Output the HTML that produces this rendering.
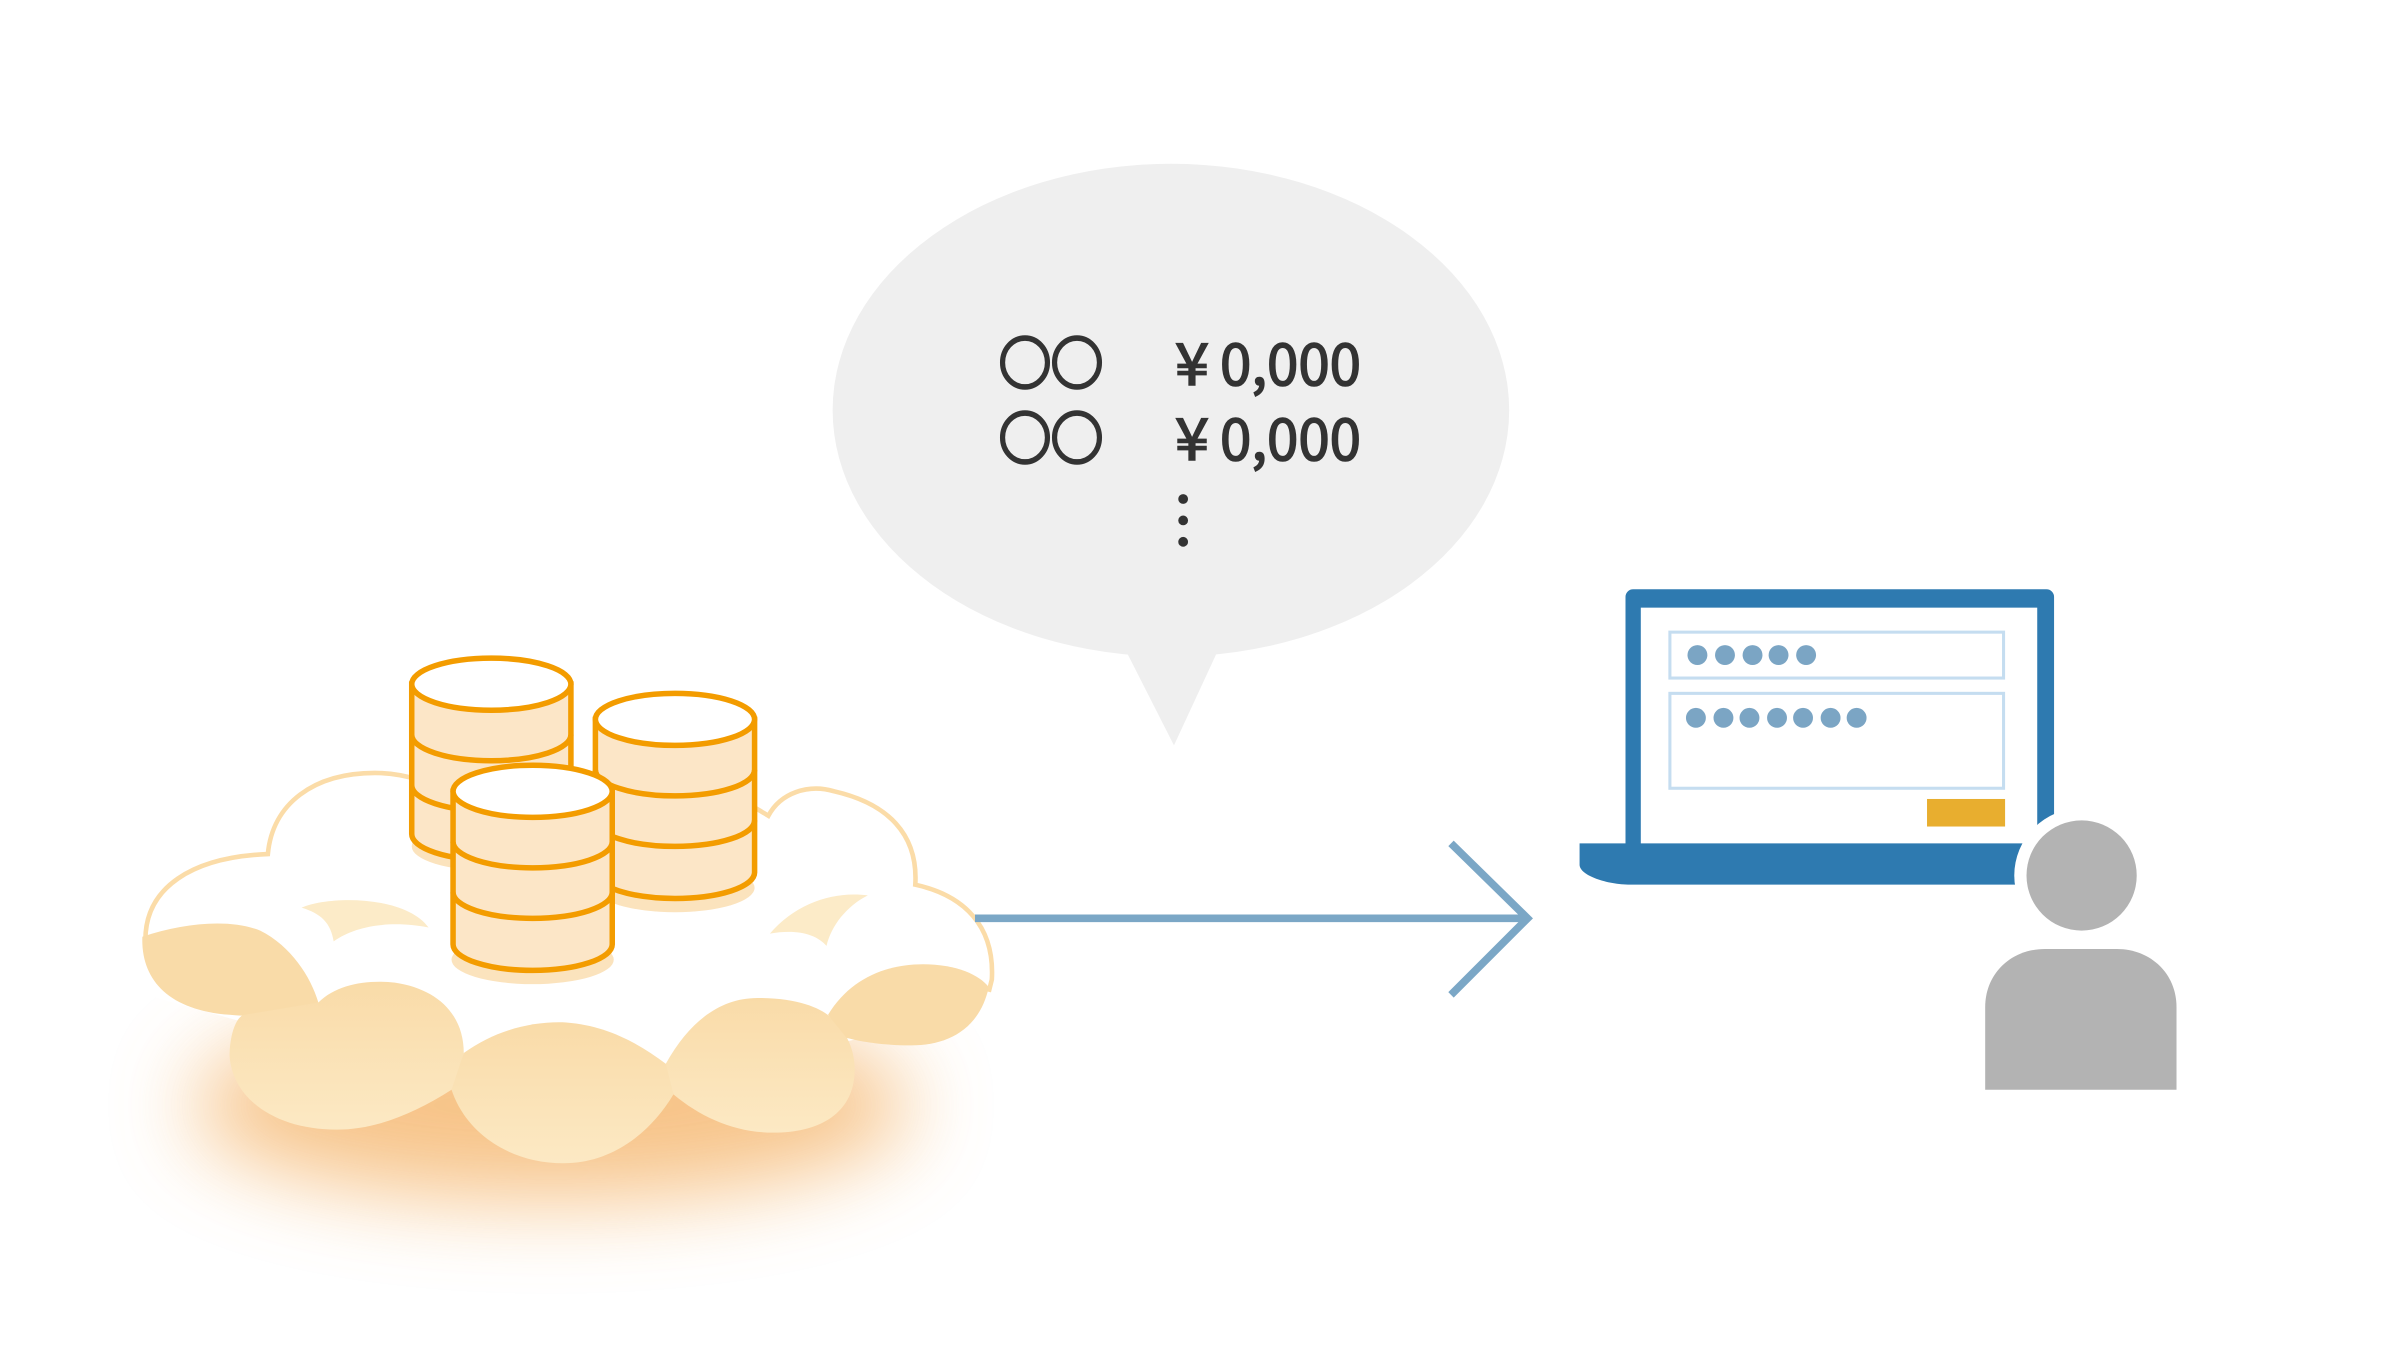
<!DOCTYPE html>
<html><head><meta charset="utf-8"><style>html,body{margin:0;padding:0;background:#fff}svg{display:block}</style></head>
<body>
<svg width="2400" height="1350" viewBox="0 0 2400 1350" xmlns="http://www.w3.org/2000/svg">
<defs>
<filter id="blur" x="-50%" y="-50%" width="200%" height="200%"><feGaussianBlur stdDeviation="28"/></filter>
<linearGradient id="lobe" x1="0" y1="0" x2="0" y2="1"><stop offset="0" stop-color="#f9dba8"/><stop offset="1" stop-color="#fce9c4"/></linearGradient>
</defs>
<g transform="scale(1.5306)">
  <ellipse cx="360" cy="722" rx="235" ry="62" fill="#f4b062" opacity="0.75" filter="url(#blur)"/>
  <path d="M95,650 L95,612 C95,580 125,560 175,558 C178,525 205,505 245,505 C265,505 285,512 300,522 L480,522 C490,525 497,530 502,533 C510,518 528,512 545,517 C580,525 600,545 598,578 C630,585 650,605 648,640 L648,660 L555,680 L440,700 L300,692 L160,668 Z" fill="#fff"/>
  <path d="M95,614 C95,580 125,560 175,558 C178,525 205,505 245,505 C265,505 285,512 300,522 M480,522 C490,525 497,530 502,533 C510,518 528,512 545,517 C580,525 600,545 598,578 C630,585 650,605 648,640 L646,648" fill="none" stroke="#fbdca8" stroke-width="3"/>
  <path d="M197,593 C215,585 265,585 280,606 C260,602 235,603 218,615 C216,603 210,597 197,593 Z" fill="#fcebc8"/>
  <path d="M503,610 C520,590 545,582 567,585 C553,592 543,605 540,618 C533,610 520,607 503,610 Z" fill="#fcebc8"/>
  <path d="M93,612 C120,603 150,600 170,608 C190,618 203,638 208,655 C190,663 170,665 150,663 C110,660 92,640 93,612 Z" fill="#f9dba8"/>
  <path d="M208,655 C220,643 240,640 258,642 C285,646 303,662 303,688 C300,700 300,705 295,712 C270,728 245,738 220,738 C180,738 152,718 150,690 C150,675 155,663 160,663 Z" fill="url(#lobe)"/>
  <path d="M303,688 C325,672 350,667 370,668 C395,670 415,680 435,695 C438,700 440,708 440,715 C425,740 400,760 368,760 C335,760 305,742 295,712 Z" fill="url(#lobe)"/>
  <path d="M435,695 C450,668 470,652 495,652 C520,652 535,658 542,664 C555,675 560,690 558,705 C555,728 535,740 505,740 C480,740 458,730 440,715 Z" fill="url(#lobe)"/>
  <path d="M541,663 C555,640 578,630 603,630 C625,630 640,637 646,645 C640,672 620,683 595,683 C575,683 560,680 553,678 Z" fill="#f9dba8"/>

  <g stroke="#f39c00" stroke-width="3.6" >
    <ellipse cx="321" cy="553" rx="52" ry="16" fill="#fbe3bd" stroke="none"/>
    <path d="M269,447 L269,545 A52,17 0 0 0 373,545 L373,447 Z" fill="#fce6c7"/>
    <path d="M269,480 A52,17 0 0 0 373,480 M269,513 A52,17 0 0 0 373,513" fill="none"/>
    <ellipse cx="321" cy="447" rx="52" ry="17" fill="#fff"/>
    <ellipse cx="441" cy="580" rx="52" ry="16" fill="#fbe3bd" stroke="none"/>
    <path d="M389,470 L389,570 A52,17 0 0 0 493,570 L493,470 Z" fill="#fce6c7"/>
    <path d="M389,503 A52,17 0 0 0 493,503 M389,536 A52,17 0 0 0 493,536" fill="none"/>
    <ellipse cx="441" cy="470" rx="52" ry="17" fill="#fff"/>
    <ellipse cx="348" cy="627" rx="53" ry="16" fill="#fbe3bd" stroke="none"/>
    <path d="M296,517 L296,617 A52,17 0 0 0 400,617 L400,517 Z" fill="#fce6c7"/>
    <path d="M296,550 A52,17 0 0 0 400,550 M296,583 A52,17 0 0 0 400,583" fill="none"/>
    <ellipse cx="348" cy="517" rx="52" ry="17" fill="#fff"/>
  </g>

  <line x1="637" y1="600" x2="996" y2="600" stroke="#7ba7c6" stroke-width="5"/>
  <polyline points="948,551 998,600 948,650" fill="none" stroke="#7ba7c6" stroke-width="5"/>

  <ellipse cx="765" cy="268" rx="221" ry="161" fill="#efefef"/>
  <polygon points="733,420 798,420 767,487" fill="#efefef"/>
  <circle cx="773" cy="326" r="3.2" fill="#333"/>
  <circle cx="773" cy="340" r="3.2" fill="#333"/>
  <circle cx="773" cy="354" r="3.2" fill="#333"/>

  <rect x="1062" y="385" width="280" height="175" rx="5" fill="#2e7ab0"/>
  <rect x="1072" y="397" width="259" height="160" fill="#fff"/>
  <path d="M1032,551 L1322,551 L1322,578 L1065,578 C1050,578 1032,572 1032,565 Z" fill="#2e7ab0"/>
  <rect x="1091" y="413" width="218" height="30" fill="none" stroke="#c5ddf0" stroke-width="2"/>
  <rect x="1091" y="453" width="218" height="62" fill="none" stroke="#c5ddf0" stroke-width="2"/>
  <g fill="#7ba5c4">
    <circle cx="1109" cy="428" r="6.5"/><circle cx="1127" cy="428" r="6.5"/><circle cx="1145" cy="428" r="6.5"/><circle cx="1162" cy="428" r="6.5"/><circle cx="1180" cy="428" r="6.5"/>
    <circle cx="1108" cy="469" r="6.5"/><circle cx="1126" cy="469" r="6.5"/><circle cx="1143" cy="469" r="6.5"/><circle cx="1161" cy="469" r="6.5"/><circle cx="1178" cy="469" r="6.5"/><circle cx="1196" cy="469" r="6.5"/><circle cx="1213" cy="469" r="6.5"/>
  </g>
  <rect x="1259" y="522" width="51" height="18" fill="#e8ae2f"/>
  <circle cx="1360" cy="572" r="44" fill="#fff"/>
  <circle cx="1360" cy="572" r="36" fill="#b3b3b3"/>
  <path d="M1297,712 L1297,658 C1297,636 1314,620 1336,620 L1383,620 C1405,620 1422,636 1422,658 L1422,712 Z" fill="#b3b3b3"/>
</g>
<g fill="#333">
  <g font-family="'Noto Sans CJK JP',sans-serif" font-size="56" stroke="#333" stroke-width="3.5">
    <text x="999" y="384" textLength="104" lengthAdjust="spacingAndGlyphs">○○</text>
    <text x="999" y="459" textLength="104" lengthAdjust="spacingAndGlyphs">○○</text>
  </g>
  <g font-family="'Noto Sans CJK JP',sans-serif" font-size="58" stroke="#333" stroke-width="1.6">
    <text x="1175" y="385" textLength="34" lengthAdjust="spacingAndGlyphs">¥</text>
    <text x="1220" y="385" textLength="141" lengthAdjust="spacingAndGlyphs">0,000</text>
    <text x="1175" y="460" textLength="34" lengthAdjust="spacingAndGlyphs">¥</text>
    <text x="1220" y="460" textLength="141" lengthAdjust="spacingAndGlyphs">0,000</text>
  </g>
</g>
</svg>
</body></html>
